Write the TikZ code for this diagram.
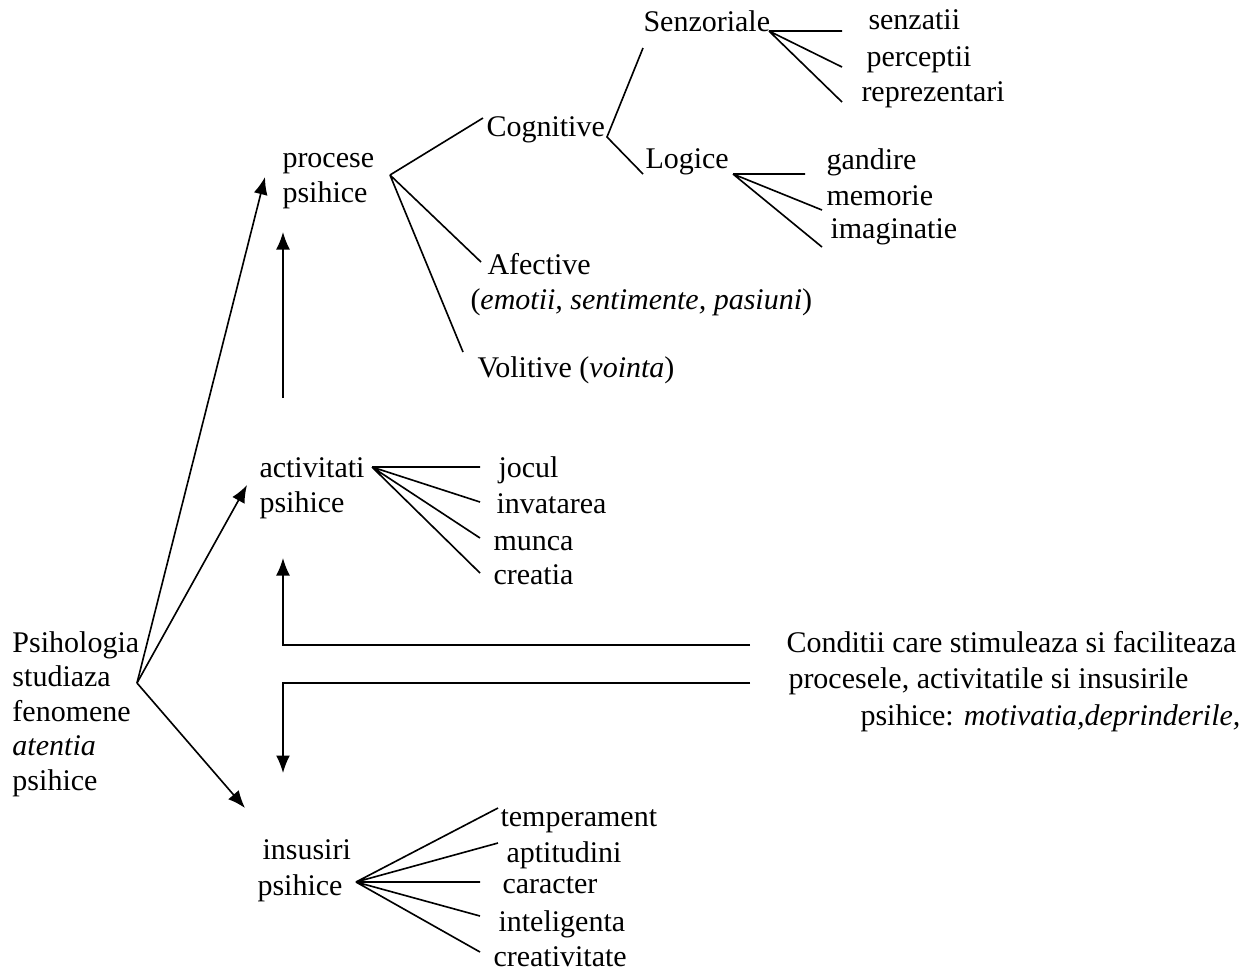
\documentclass[tikz,border=0pt]{standalone}
\usepackage{fontspec}
\setmainfont{Liberation Serif}
\usetikzlibrary{arrows.meta}
\begin{document}
\begin{tikzpicture}[x=0.4pt,y=-0.4pt,
  txt/.style={anchor=base west,inner sep=0pt,align=left,font=\fontsize{12}{13.8}\selectfont},
  ln/.style={line width=0.65pt},
  arr/.style={line width=0.65pt,-{Latex[length=7pt,width=5.6pt]}}]
\useasboundingbox (0,0) rectangle (1255,969);
% texts (multi-line nodes are placed by the baseline of their last line)
\node[txt] (senz) at (643,31) {Senzoriale};
\node[txt] (senzatii) at (868,29) {senzatii};
\node[txt] (perc) at (866,66) {perceptii};
\node[txt] (repr) at (861,101) {reprezentari};
\node[txt] (cogn) at (486,136) {Cognitive};
\node[txt] (logice) at (645,168) {Logice};
\node[txt] (gand) at (826,169) {gandire};
\node[txt] (mem) at (826,205) {memorie};
\node[txt] (imag) at (830,238) {imaginatie};
\node[txt] (proc) at (282,202) {procese\\psihice};
\node[txt] (afect) at (487,274) {Afective};
\node[txt] (emot) at (470,309) {(\textit{emotii, sentimente, pasiuni})};
\node[txt] (volit) at (477,377) {Volitive (\textit{vointa})};
\node[txt] (activ) at (259,512) {activitati\\psihice};
\node[txt] (jocul) at (498,477) {jocul};
\node[txt] (invat) at (496,513) {invatarea};
\node[txt] (munca) at (493,550) {munca};
\node[txt] (creatia) at (493,584) {creatia};
\node[txt] (psih) at (12,790) {Psihologia\\studiaza\\fenomene\\\textit{atentia}\\psihice};
\node[txt,font=\fontsize{12}{14.6}\selectfont] (cond) at (786,725) {Conditii care stimuleaza si faciliteaza\\\hspace{0.8pt}procesele, activitatile si insusirile\\\hspace{29.6pt}psihice: \textit{motivatia,deprinderile,}};
\node[txt,font=\fontsize{12}{14.4}\selectfont] (insus) at (257,895) {\hspace{2pt}insusiri\\psihice};
\node[txt] (temp) at (500,826) {temperament};
\node[txt] (apt) at (506,862) {aptitudini};
\node[txt] (car) at (502,893) {caracter};
\node[txt] (intel) at (498,931) {inteligenta};
\node[txt] (creat) at (493,966) {creativitate};
% junction and end coordinates
\coordinate (jS) at (769,31);
\coordinate (eS1) at (842,31);
\coordinate (eS2) at (842,67);
\coordinate (eS3) at (842,102);
\coordinate (jC) at (607,137);
\coordinate (eC1) at (643,48);
\coordinate (eC2) at (643,174);
\coordinate (jP) at (390,175);
\coordinate (eP1) at (483,118);
\coordinate (eP2) at (481,262);
\coordinate (eP3) at (463,352);
\coordinate (jL) at (733,174);
\coordinate (eL1) at (805,174);
\coordinate (eL2) at (822,210);
\coordinate (eL3) at (822,247);
\coordinate (jA) at (372,467);
\coordinate (eA1) at (480,467);
\coordinate (eA2) at (480,502);
\coordinate (eA3) at (480,538);
\coordinate (eA4) at (480,573);
\coordinate (jI) at (356,882);
\coordinate (eI1) at (498,808);
\coordinate (eI2) at (498,843);
\coordinate (eI3) at (480,882);
\coordinate (eI4) at (480,916);
\coordinate (eI5) at (480,952);
\coordinate (jJ) at (137,683);
\coordinate (tJ1) at (265,177);
\coordinate (tJ2) at (247,485);
\coordinate (tJ3) at (245,808);
\coordinate (sAP) at (283,398);
\coordinate (tAP) at (283,232);
\coordinate (b1s) at (750,645);
\coordinate (b1c) at (283,645);
\coordinate (b1t) at (283,558);
\coordinate (b2s) at (750,683);
\coordinate (b2c) at (283,683);
\coordinate (b2t) at (283,773);
% connectors
\draw[ln] (jS) -- (eS1) (jS) -- (eS2) (jS) -- (eS3);
\draw[ln] (eC1) -- (jC) -- (eC2);
\draw[ln] (jP) -- (eP1) (jP) -- (eP2) (jP) -- (eP3);
\draw[ln] (jL) -- (eL1) (jL) -- (eL2) (jL) -- (eL3);
\draw[ln] (jA) -- (eA1) (jA) -- (eA2) (jA) -- (eA3) (jA) -- (eA4);
\draw[ln] (jI) -- (eI1) (jI) -- (eI2) (jI) -- (eI3) (jI) -- (eI4) (jI) -- (eI5);
\draw[arr] (jJ) -- (tJ1);
\draw[arr] (jJ) -- (tJ2);
\draw[arr] (jJ) -- (tJ3);
\draw[arr] (sAP) -- (tAP);
\draw[arr] (b1s) -- (b1c) -- (b1t);
\draw[arr] (b2s) -- (b2c) -- (b2t);
\end{tikzpicture}
\end{document}
